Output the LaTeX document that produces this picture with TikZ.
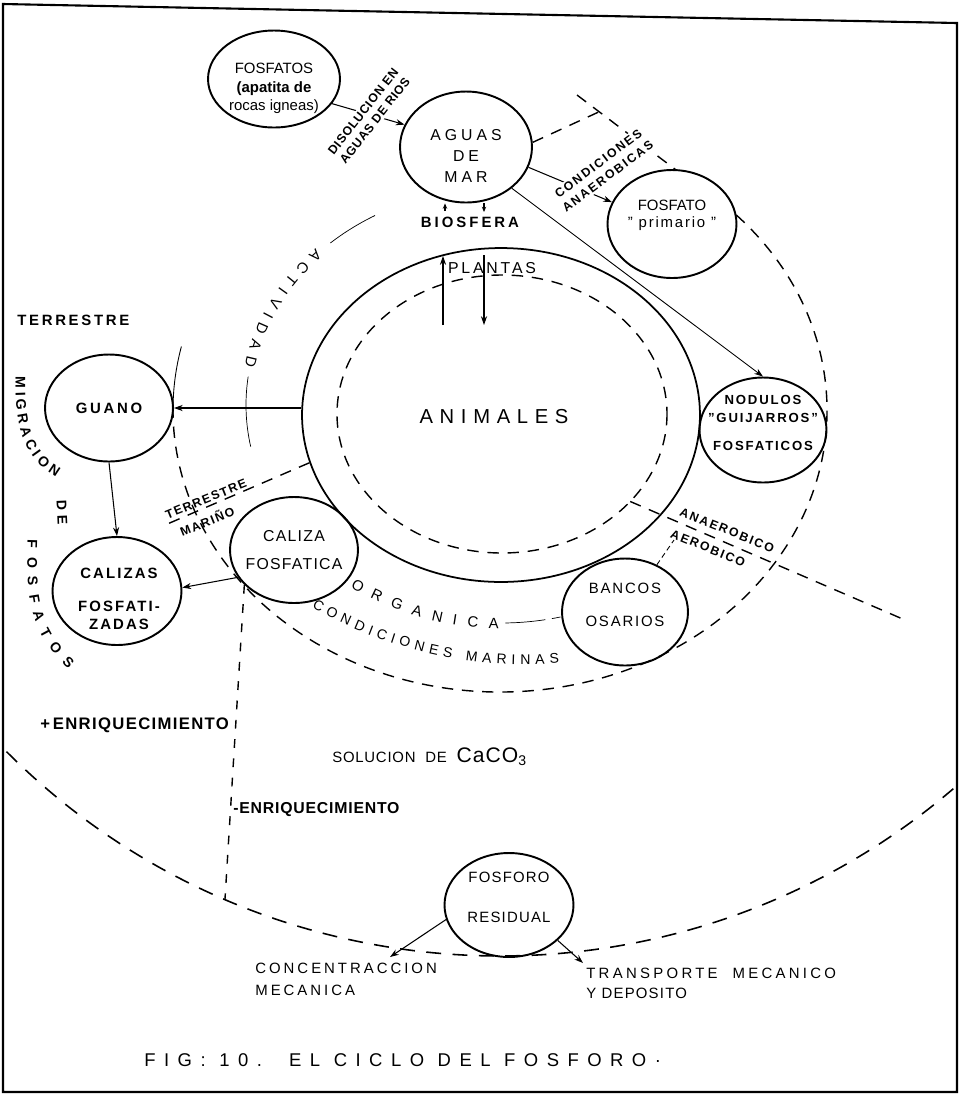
\documentclass[tikz,border=0pt]{standalone}
\usepackage{fontspec}
\setmainfont{Liberation Sans}
\usepackage{tikz}
\usetikzlibrary{calc}
\usetikzlibrary{shapes.geometric}
\usetikzlibrary{arrows.meta}
\usetikzlibrary{decorations.text}
\newcommand{\fsz}[2]{\fontsize{#1}{#2}\selectfont}
\newcommand{\trk}[1]{\addfontfeature{LetterSpace=#1}}
\tikzset{
  blob/.style={draw, ellipse, line width=1.1pt, inner sep=0pt, align=center},
  lab/.style={inner sep=0pt, align=center},
  brk/.style={line width=0.8pt, dash pattern=on 6.5pt off 5pt},
  arr/.style={line width=0.6pt, -{Stealth[length=5pt, width=3.5pt]}},
  arc text/.style={decorate, decoration={text along path, text align=fit to path, raise=-3pt, text={#1}}},
}

\begin{document}
\begin{tikzpicture}[x=0.02cm, y=-0.02cm]
\useasboundingbox (0,0) rectangle (960,1107);

% marco
\draw[line width=1.2pt] (3,4) -- (957,23) -- (957,1092) -- (3,1092) -- cycle;

% limites
\draw[brk] (500,410) ++(-55:327 and 282) arc[start angle=-55, end angle=180, x radius=327, y radius=282];
\draw[line width=0.5pt] (500,410) ++(180:327 and 282) arc[start angle=180, end angle=193, x radius=327, y radius=282];
\draw[brk] (577,95) -- (688,179);
\draw[brk] (502,414) ellipse[x radius=165, y radius=139];
\draw[brk] (502,414) ++(39:165 and 139) -- (905,620);
\draw[brk, line width=0.9pt, dash pattern=on 8.5pt off 6.5pt] (500,258) ++(135:698) arc[start angle=135, end angle=49.5, radius=698];

% actividad organica
\coordinate (ac) at (501,405);
\draw[line width=0.4pt] ($(ac)+(240.4:255 and 218)$) arc[start angle=240.4, end angle=228, x radius=255, y radius=218];
\path[arc text={|\fsz{8.5}{10}|ACTIVIDAD}] ($(ac)+(224.5:255 and 218)$) arc[start angle=224.5, end angle=190, x radius=255, y radius=218];
\draw[line width=0.4pt] ($(ac)+(187.5:255 and 218)$) arc[start angle=187.5, end angle=169, x radius=255, y radius=218];
\path[arc text={|\fsz{8.5}{10}|ORGANICA}] ($(ac)+(125.5:255 and 218)$) arc[start angle=125.5, end angle=90.5, x radius=255, y radius=218];
\draw[line width=0.4pt] ($(ac)+(89:255 and 218)$) arc[start angle=89, end angle=80, x radius=255, y radius=218];
\draw[line width=0.4pt] ($(ac)+(78.5:255 and 218)$) arc[start angle=78.5, end angle=76.5, x radius=255, y radius=218];
\path[arc text={|\fsz{8}{9}|CONDICIONES MARINAS}] ($(526,232)+(119.7:427)$) arc[start angle=119.7, end angle=85.6, radius=427];

% migracion
\path[arc text={|\fsz{8}{9}\bfseries|MIGRACION}] (21,377) .. controls (20,425) and (28,455) .. (59,473);
\path[arc text={|\fsz{8}{9}\bfseries|DE}] (62,500) -- (63,525);
\path[arc text={|\fsz{8}{9}\bfseries|FOSFATOS}] (33,540) .. controls (31,600) and (35,630) .. (72,665);

% nodos
\node[blob, minimum width=2.64cm, minimum height=1.94cm] (fosfatos) at (274,79) {};
\node[lab, font=\fsz{8.5}{10}] at ($(fosfatos)+(0,9)$) {FOSFATOS\\[1pt]\bfseries (apatita de\\rocas igneas)};

\node[blob, minimum width=2.64cm, minimum height=2.22cm] (aguas) at (466,147) {};
\node[lab, font=\fsz{9}{12}\trk{25}] at ($(aguas)+(0,9)$) {AGUAS\\DE\\MAR};
\node[lab, font=\fsz{8.5}{10}\bfseries\trk{20}] (biosfera) at (470,222) {BIOSFERA};

\node[blob, fill=white, minimum width=2.58cm, minimum height=2.16cm] (primario) at (672,224) {};
\node[lab, font=\fsz{8.5}{9.5}] at ($(primario)+(0,-9)$) {FOSFATO\\{\trk{12}" primario "}};

\node[blob, minimum width=2.54cm, minimum height=2.1cm] (nodulos) at (763,430) {};
\node[lab, font=\fsz{7.5}{10}\bfseries\trk{14}] at ($(nodulos)+(0,-7)$) {NODULOS\\"GUIJARROS"\\[6pt]FOSFATICOS};

\node[blob, line width=1pt, minimum width=7.96cm, minimum height=6.68cm] (animales) at (501,415) {};
\node[lab, font=\fsz{11.5}{13}\trk{33}] at (494,417) {ANIMALES};
\node[lab, font=\fsz{9}{10}\trk{18}] (plantas) at (492,268) {PLANTAS};

\node[blob, minimum width=2.56cm, minimum height=2.14cm, font=\fsz{8.5}{10}\bfseries\trk{18}] (guano) at (109,408) {GUANO};
\node[lab, anchor=west, font=\fsz{8.5}{10}\bfseries\trk{18}] (terr) at (17,320) {TERRESTRE};

\node[blob, minimum width=2.58cm, minimum height=2.16cm] (calizas) at (117,591) {};
\node[lab, font=\fsz{8.5}{10}\bfseries\trk{14}] at ($(calizas)+(2,8)$) {CALIZAS\\[8.8pt]FOSFATI-\\ZADAS};

\node[blob, minimum width=2.56cm, minimum height=2.12cm] (caliza) at (294,550) {};
\node[lab, font=\fsz{9}{16}\trk{8}] at (caliza) {CALIZA\\FOSFATICA};

\node[blob, minimum width=2.52cm, minimum height=2.14cm] (bancos) at (625,612) {};
\node[lab, font=\fsz{8.5}{19}\trk{12}] at ($(bancos)+(0,-7)$) {BANCOS\\OSARIOS};

\node[blob, minimum width=2.58cm, minimum height=2.08cm] (fosforo) at (509,905) {};
\node[lab, font=\fsz{8.5}{22.8}\trk{8}] at ($(fosforo)+(0,-8)$) {FOSFORO\\RESIDUAL};

% conectores
\coordinate (b1) at (445,211);
\coordinate (b2) at (484,212);
\coordinate (pl1) at (443,256);
\coordinate (pl1b) at (443,325);
\coordinate (pl2) at (484,255);
\coordinate (pl2b) at (484,325);
\coordinate (agtop) at (603,110);
\coordinate (enr) at (225,899);
\coordinate (tm) at (165,525);
\coordinate (aer) at (674,540);
\coordinate (conc) at (390,957);
\coordinate (transp) at (583,963);

\draw[arr] (fosfatos.-23) -- (aguas.160);
\node[lab, fill=white, inner sep=1pt, rotate=52, font=\fsz{7}{8.5}\bfseries\trk{6}] (disol) at (369,116) {DISOLUCION EN\\AGUAS DE RIOS};
\draw[arr] (aguas.-18) -- (primario.160);
\node[lab, fill=white, inner sep=1pt, rotate=37, font=\fsz{7}{9}\bfseries\trk{15}] (anaer) at (603,170) {CONDICIONES\\ANAEROBICAS};
\draw[brk] (aguas.4) -- (agtop);
\draw[arr, line width=0.5pt] (aguas.-42) -- (nodulos.north);
\draw[arr, -{Stealth[length=3pt, width=2.5pt]}] (b1) -- (b1 |- aguas.south);
\draw[arr, -{Stealth[length=3pt, width=2.5pt]}] (b2 |- aguas.south) -- (b2);
\draw[arr] (pl1b) -- (pl1);
\draw[arr] (pl2) -- (pl2b);
\draw[arr] (animales.west |- guano) -- (guano.east);
\draw[arr] (guano.south) -- (calizas.north);
\draw[arr] (caliza.206) -- (calizas.3);
\draw[brk, dash pattern=on 5pt off 6pt] (caliza.215) -- (enr);
\draw[brk] (animales.194) -- (tm);
\draw[line width=0.5pt, dash pattern=on 3pt off 2pt] (bancos.56) -- (aer);
\draw[arr] (fosforo.193) -- (conc);
\draw[arr] (fosforo.-36) -- (transp);

% textos
\node[lab, rotate=-22, font=\fsz{7}{8}\bfseries\trk{15}] (anaerob) at (727,530) {ANAEROBICO};
\node[lab, rotate=-22, font=\fsz{7}{8}\bfseries\trk{15}] (aerob) at (708,548) {AEROBICO};
\node[lab, rotate=22, font=\fsz{7}{8}\bfseries\trk{12}] (terrm) at (206,499) {TERRESTRE};
\node[lab, rotate=22, font=\fsz{7}{8}\bfseries\trk{12}] (marino) at (207,521) {MARIÑO};
\node[lab, anchor=west, font=\fsz{8.5}{9}\trk{5}] (sol) at (332,757) {SOLUCION\ \ DE\ \ {\fsz{12}{13}CaCO\textsubscript{3}}};
\node[lab, anchor=west, font=\fsz{9.5}{10}\bfseries\trk{8}] (enrp) at (40,725) {+\,ENRIQUECIMIENTO};
\node[lab, anchor=west, font=\fsz{9}{10}\bfseries\trk{5}] (enrm) at (233,810) {-ENRIQUECIMIENTO};
\node[lab, anchor=north west, align=left, font=\fsz{8.5}{12.5}\trk{20}] (concl) at (255,963) {CONCENTRACCION\\MECANICA};
\node[lab, anchor=north west, align=left, font=\fsz{8.5}{11.5}\trk{22}] (transl) at (586,968) {TRANSPORTE\ \ MECANICO\\{\trk{8}Y DEPOSITO}};
\node[lab, anchor=west, font=\fsz{10.5}{12}\trk{46}] (fig) at (144,1060) {FIG: 10.\ \ EL CICLO DEL FOSFORO·};

\end{tikzpicture}
\end{document}
